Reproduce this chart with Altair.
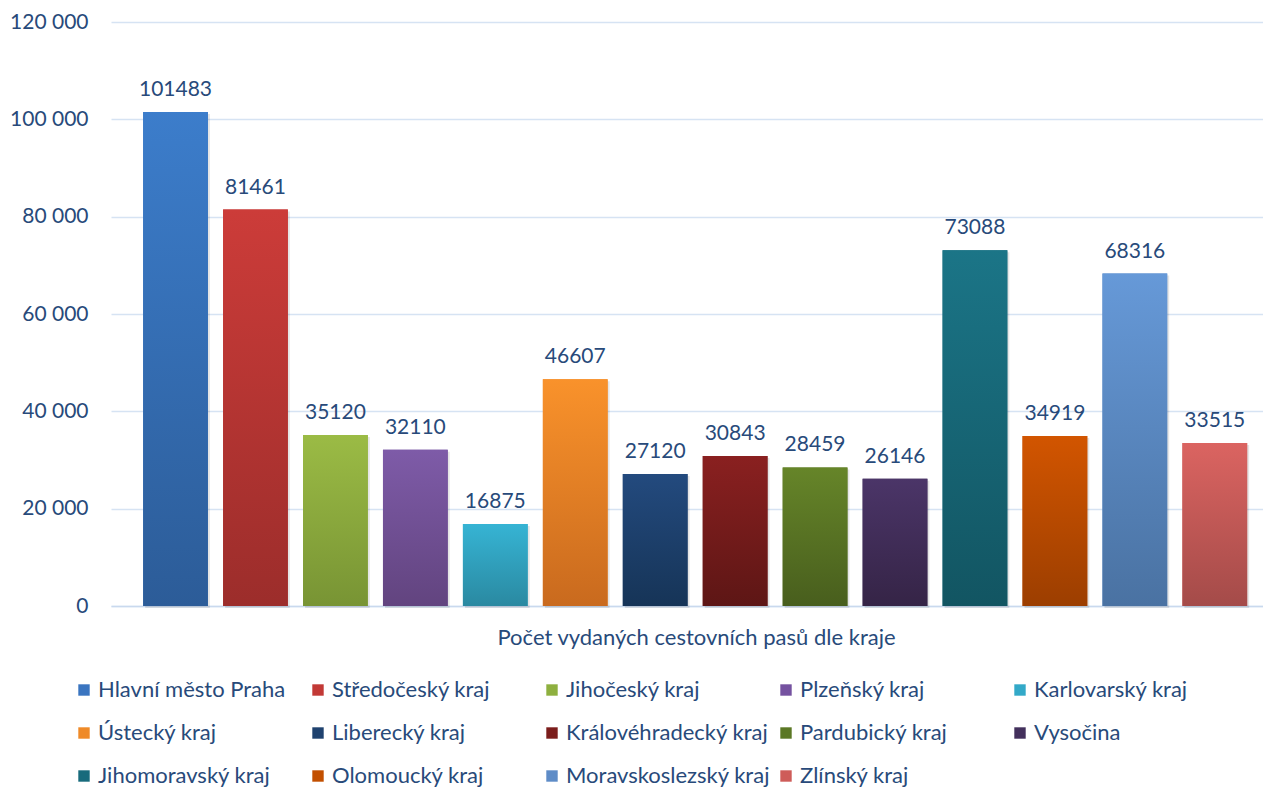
import altair as alt
import pandas as pd

regions = ["Hlavní město Praha", "Středočeský kraj", "Jihočeský kraj", "Plzeňský kraj",
           "Karlovarský kraj", "Ústecký kraj", "Liberecký kraj", "Královéhradecký kraj",
           "Pardubický kraj", "Vysočina", "Jihomoravský kraj", "Olomoucký kraj",
           "Moravskoslezský kraj", "Zlínský kraj"]
passports = [101483, 81461, 35120, 32110, 16875, 46607, 27120, 30843,
             28459, 26146, 73088, 34919, 68316, 33515]
top_colors = ["#3C7DCB", "#CC3C39", "#9BBB45", "#7E5BA8", "#36B4D4", "#F9922B", "#234A7E",
              "#8A2020", "#668529", "#4B3568", "#1B7587", "#D25500", "#6699D8", "#DB6461"]
bottom_colors = ["#2C5C98", "#9C2D2B", "#789434", "#62447F", "#2A89A1", "#C96A1E", "#163457",
                 "#5D1615", "#485E1D", "#352446", "#125562", "#9C3E00", "#4A72A2", "#A44B49"]
legend_colors = ["#3A75C0", "#C23936", "#8EB03F", "#7552A0", "#33A9C8", "#EF8A28", "#1F426F",
                 "#7B1D1C", "#5B7825", "#43305C", "#186B7C", "#C24F00", "#5E8CC7", "#CE5C59"]
y_ticks = [0, 20000, 40000, 60000, 80000, 100000, 120000]
x_title = "Počet vydaných cestovních pasů dle kraje"

df = pd.DataFrame({"region": regions, "value": passports})

FONT = "Lato"
TXT = "#284A7A"
GRID = "#D6E3F3"

x_enc = alt.X("region:N", sort=regions,
              scale=alt.Scale(domain=regions, paddingInner=0.19, paddingOuter=0.3, align=0.67),
              axis=alt.Axis(title=x_title, labels=False, ticks=False, domain=True,
                            domainColor="#C9D9EE", domainWidth=1.5,
                            titleFont=FONT, titleFontSize=22, titleFontWeight="normal",
                            titleColor=TXT, titlePadding=21, titleX=585))
y_enc = alt.Y("value:Q",
              scale=alt.Scale(domain=[0, 120000], nice=False),
              axis=alt.Axis(title=None, values=y_ticks, ticks=False, domain=False,
                            labelExpr="replace(format(datum.value, ','), ',', ' ')",
                            labelFont=FONT, labelFontSize=21, labelColor=TXT, labelPadding=23,
                            gridColor=GRID, gridWidth=1.5))

base = alt.Chart(df).encode(x=x_enc, y=y_enc)

shadow = base.mark_bar(color="#000000", opacity=0.10, xOffset=2, yOffset=2)

legend_bars = base.mark_bar().encode(
    color=alt.Color("region:N",
                    scale=alt.Scale(domain=regions, range=legend_colors),
                    legend=alt.Legend(orient="none", legendX=-38, legendY=657,
                                      direction="horizontal", columns=5, title=None,
                                      symbolType="square", symbolSize=130, symbolStrokeWidth=0,
                                      labelFont=FONT, labelFontSize=22, labelColor=TXT,
                                      labelOffset=3, columnPadding=5, rowPadding=21,
                                      gridAlign="all", labelLimit=400))
)

layers = [shadow, legend_bars]
for r, t, b in zip(regions, top_colors, bottom_colors):
    layers.append(
        base.transform_filter(alt.datum.region == r).mark_bar(
            color=alt.Gradient(gradient="linear", x1=0, x2=0, y1=0, y2=1,
                               stops=[alt.GradientStop(color=t, offset=0),
                                      alt.GradientStop(color=b, offset=1)])
        )
    )

labels = base.mark_text(baseline="alphabetic", dy=-16, font=FONT, fontSize=21,
                        color=TXT).encode(text=alt.Text("value:Q", format="d"))
layers.append(labels)

chart = alt.layer(*layers).properties(
    width=1152, height=584,
    padding={"left": 103, "top": 14, "right": 0, "bottom": 186},
    autosize=alt.AutoSizeParams(type="none"),
    background="white",
).configure_view(stroke=None)

chart.save("out.html", embed_options={"renderer": "svg", "actions": False})
